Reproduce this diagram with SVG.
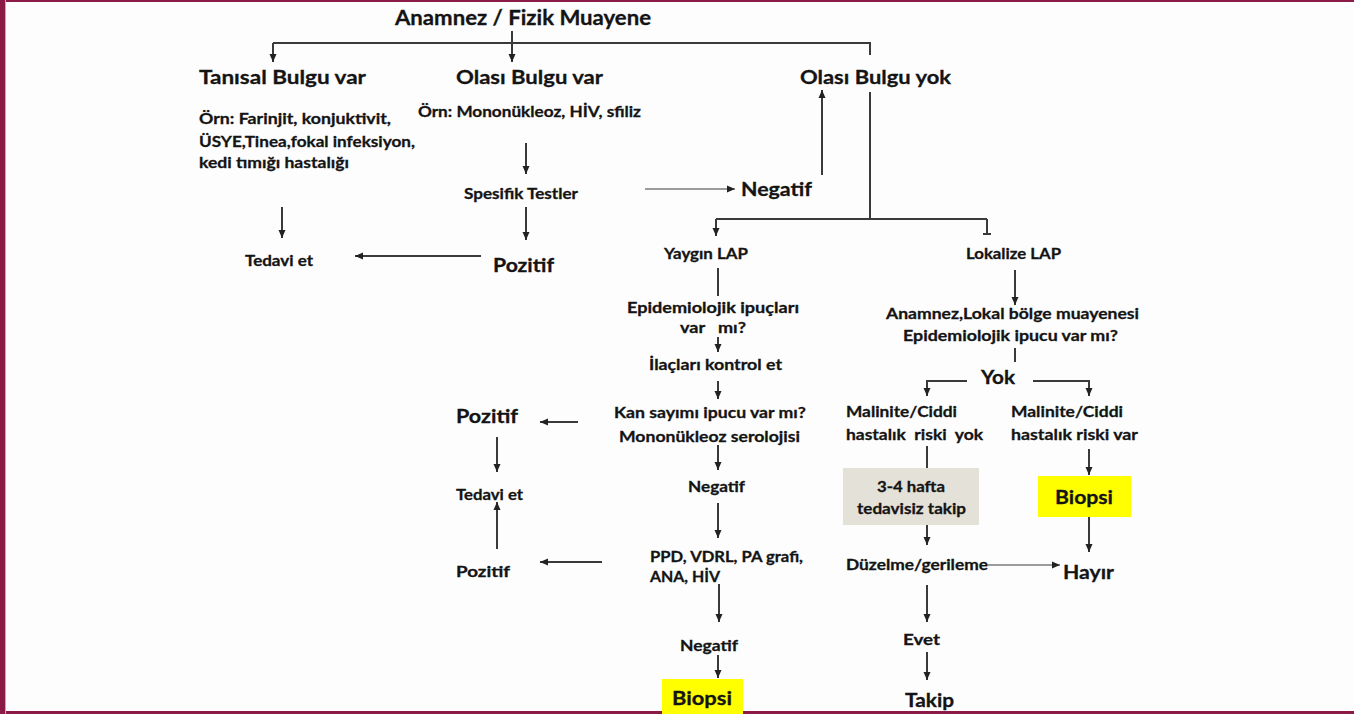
<svg xmlns="http://www.w3.org/2000/svg" width="1354" height="714" viewBox="0 0 1354 714">
  <defs>
    <style>
      text { font-family: Lato, "Open Sans", "Liberation Sans", sans-serif; font-weight: 700; fill: #141414; stroke: #141414; stroke-width: 0.3; }
      .xl { font-size: 20px; }
      .l { font-size: 19.5px; }
      .m { font-size: 16px; }
      .s { font-size: 15.3px; }
      .wire { fill: none; stroke: #3a3a3a; stroke-width: 2; }
      .thin { fill: none; stroke: #3a3a3a; stroke-width: 1.2; }
      .hl { fill: #ffff00; }
      .note { fill: #e4e1d9; }
    </style>
    <marker id="arrow" viewBox="0 0 8 8" refX="8" refY="4" markerWidth="8" markerHeight="8" markerUnits="userSpaceOnUse" orient="auto">
      <path d="M0,0.5 L8,4 L0,7.5 Z" fill="#222"/>
    </marker>
  </defs>

  <!-- page background and frame -->
  <rect x="0" y="0" width="1354" height="714" fill="#fdfdfd"/>
  <rect x="0" y="0" width="1354" height="2" fill="#8c1a46"/>
  <rect x="0" y="711" width="1354" height="3" fill="#8c1a46"/>
  <rect x="0" y="0" width="5" height="714" fill="#8c1a46"/>
  <rect x="5" y="0" width="1" height="714" fill="#d7a0b8"/>

  <!-- connectors -->
  <g id="connectors">
    <path class="wire" d="M512,31 V62" marker-end="url(#arrow)"/>
    <path class="wire" d="M273,43 H870 V55"/>
    <path class="wire" d="M273,43 V62" marker-end="url(#arrow)"/>
    <path class="wire" d="M282,207 V238" marker-end="url(#arrow)"/>
    <path class="wire" d="M526,143 V174" marker-end="url(#arrow)"/>
    <path class="wire" d="M526,207 V240" marker-end="url(#arrow)"/>
    <path class="wire" d="M481,256 H355" marker-end="url(#arrow)"/>
    <path class="thin" d="M645,189 H735" marker-end="url(#arrow)"/>
    <path class="wire" d="M822,175 V90" marker-end="url(#arrow)"/>
    <path class="wire" d="M870,92 V219 M716,219 H987"/>
    <path class="wire" d="M716,219 V236" marker-end="url(#arrow)"/>
    <path class="wire" d="M987,219 V234 M983,234 H991"/>
    <path class="wire" d="M718,268 V296"/>
    <path class="wire" d="M718,337 V352" marker-end="url(#arrow)"/>
    <path class="wire" d="M718,381 V399" marker-end="url(#arrow)"/>
    <path class="wire" d="M718,445 V470" marker-end="url(#arrow)"/>
    <path class="wire" d="M718,503 V538" marker-end="url(#arrow)"/>
    <path class="wire" d="M719,584 V622" marker-end="url(#arrow)"/>
    <path class="wire" d="M718,655 V678" marker-end="url(#arrow)"/>
    <path class="wire" d="M578,422 H540" marker-end="url(#arrow)"/>
    <path class="wire" d="M497,437 V472" marker-end="url(#arrow)"/>
    <path class="wire" d="M497,549 V502" marker-end="url(#arrow)"/>
    <path class="wire" d="M602,562 H540" marker-end="url(#arrow)"/>
    <path class="wire" d="M1015,270 V305" marker-end="url(#arrow)"/>
    <path class="wire" d="M1015,348 V362"/>
    <path class="wire" d="M967,381 H927 V396" marker-end="url(#arrow)"/>
    <path class="wire" d="M1033,381 H1089 V396" marker-end="url(#arrow)"/>
    <path class="wire" d="M927,446 V468"/>
    <path class="wire" d="M927,525 V545" marker-end="url(#arrow)"/>
    <path class="wire" d="M1089,449 V475" marker-end="url(#arrow)"/>
    <path class="wire" d="M1089,517 V552" marker-end="url(#arrow)"/>
    <path class="thin" d="M988,565 H1060" marker-end="url(#arrow)"/>
    <path class="wire" d="M927,585 V622" marker-end="url(#arrow)"/>
    <path class="wire" d="M927,652 V680" marker-end="url(#arrow)"/>
  </g>

  <!-- top level -->
  <g id="n-anamnez"><text class="xl" x="395" y="25" textLength="256" lengthAdjust="spacingAndGlyphs">Anamnez / Fizik Muayene</text></g>
  <g id="n-tanisal"><text class="l" x="199" y="84" textLength="167" lengthAdjust="spacingAndGlyphs">Tanısal Bulgu var</text></g>
  <g id="n-olasi-var"><text class="l" x="456" y="84" textLength="147" lengthAdjust="spacingAndGlyphs">Olası Bulgu var</text></g>
  <g id="n-olasi-yok"><text class="l" x="800" y="84" textLength="151" lengthAdjust="spacingAndGlyphs">Olası Bulgu yok</text></g>

  <!-- diagnostic finding branch -->
  <g id="n-ornek-1">
    <text class="m" x="199" y="124" textLength="192" lengthAdjust="spacingAndGlyphs">Örn: Farinjit, konjuktivit,</text>
    <text class="m" x="199" y="147" textLength="216" lengthAdjust="spacingAndGlyphs">ÜSYE,Tinea,fokal infeksiyon,</text>
    <text class="m" x="199" y="168" textLength="150" lengthAdjust="spacingAndGlyphs">kedi tımığı hastalığı</text>
  </g>
  <g id="n-tedavi-1"><text class="s" x="245" y="266" textLength="68" lengthAdjust="spacingAndGlyphs">Tedavi et</text></g>

  <!-- possible finding branch -->
  <g id="n-ornek-2"><text class="m" x="418" y="117" textLength="223" lengthAdjust="spacingAndGlyphs">Örn: Mononükleoz, HİV, sfiliz</text></g>
  <g id="n-spesifik"><text class="s" x="464" y="199" textLength="114" lengthAdjust="spacingAndGlyphs">Spesifik Testler</text></g>
  <g id="n-pozitif-1"><text class="l" x="493" y="272" textLength="61" lengthAdjust="spacingAndGlyphs">Pozitif</text></g>
  <g id="n-negatif-1"><text class="l" x="741" y="196" textLength="71" lengthAdjust="spacingAndGlyphs">Negatif</text></g>

  <!-- generalised lymphadenopathy -->
  <g id="n-yaygin"><text class="s" x="664" y="259" textLength="84" lengthAdjust="spacingAndGlyphs">Yaygın LAP</text></g>
  <g id="n-epi-1">
    <text class="m" x="627" y="313" textLength="172" lengthAdjust="spacingAndGlyphs">Epidemiolojik ipuçları</text>
    <text class="m" x="680" y="333" textLength="66" lengthAdjust="spacingAndGlyphs" xml:space="preserve">var   mı?</text>
  </g>
  <g id="n-ilac"><text class="m" x="649" y="370" textLength="133" lengthAdjust="spacingAndGlyphs">İlaçları kontrol et</text></g>
  <g id="n-kan">
    <text class="m" x="614" y="418" textLength="192" lengthAdjust="spacingAndGlyphs">Kan sayımı ipucu var mı?</text>
    <text class="m" x="619" y="442" textLength="181" lengthAdjust="spacingAndGlyphs">Mononükleoz serolojisi</text>
  </g>
  <g id="n-negatif-2"><text class="m" x="688" y="492" textLength="57" lengthAdjust="spacingAndGlyphs">Negatif</text></g>
  <g id="n-ppd">
    <text class="m" x="650" y="562" textLength="153" lengthAdjust="spacingAndGlyphs">PPD, VDRL, PA grafi,</text>
    <text class="m" x="650" y="582" textLength="70" lengthAdjust="spacingAndGlyphs">ANA, HİV</text>
  </g>
  <g id="n-negatif-3"><text class="m" x="680" y="651" textLength="58" lengthAdjust="spacingAndGlyphs">Negatif</text></g>
  <g id="n-biopsi-1">
    <rect class="hl" x="662" y="679" width="81" height="35"/>
    <text class="l" x="672" y="705" textLength="60" lengthAdjust="spacingAndGlyphs">Biopsi</text>
  </g>
  <g id="n-pozitif-2"><text class="l" x="456" y="423" textLength="62" lengthAdjust="spacingAndGlyphs">Pozitif</text></g>
  <g id="n-tedavi-2"><text class="s" x="456" y="500" textLength="67" lengthAdjust="spacingAndGlyphs">Tedavi et</text></g>
  <g id="n-pozitif-3"><text class="m" x="456" y="577" textLength="54" lengthAdjust="spacingAndGlyphs">Pozitif</text></g>

  <!-- localised lymphadenopathy -->
  <g id="n-lokalize"><text class="s" x="966" y="259" textLength="95" lengthAdjust="spacingAndGlyphs">Lokalize LAP</text></g>
  <g id="n-lokal-muayene">
    <text class="m" x="886" y="319" textLength="253" lengthAdjust="spacingAndGlyphs">Anamnez,Lokal bölge muayenesi</text>
    <text class="m" x="903" y="341" textLength="215" lengthAdjust="spacingAndGlyphs">Epidemiolojik ipucu var mı?</text>
  </g>
  <g id="n-yok"><text class="l" x="981" y="384" textLength="34" lengthAdjust="spacingAndGlyphs">Yok</text></g>
  <g id="n-risk-yok">
    <text class="m" x="846" y="417" textLength="111" lengthAdjust="spacingAndGlyphs">Malinite/Ciddi</text>
    <text class="m" x="846" y="440" textLength="137" lengthAdjust="spacingAndGlyphs" xml:space="preserve">hastalık  riski  yok</text>
  </g>
  <g id="n-risk-var">
    <text class="m" x="1011" y="417" textLength="112" lengthAdjust="spacingAndGlyphs">Malinite/Ciddi</text>
    <text class="m" x="1011" y="440" textLength="127" lengthAdjust="spacingAndGlyphs">hastalık riski var</text>
  </g>
  <g id="n-takip-4hafta">
    <rect class="note" x="843" y="468" width="136" height="57"/>
    <text class="m" x="877" y="492" textLength="68" lengthAdjust="spacingAndGlyphs">3-4 hafta</text>
    <text class="m" x="857" y="514" textLength="109" lengthAdjust="spacingAndGlyphs">tedavisiz takip</text>
  </g>
  <g id="n-biopsi-2">
    <rect class="hl" x="1038" y="476" width="93" height="41"/>
    <text class="l" x="1055" y="504" textLength="58" lengthAdjust="spacingAndGlyphs">Biopsi</text>
  </g>
  <g id="n-duzelme"><text class="m" x="846" y="570" textLength="142" lengthAdjust="spacingAndGlyphs">Düzelme/gerileme</text></g>
  <g id="n-hayir"><text class="l" x="1063" y="579" textLength="51" lengthAdjust="spacingAndGlyphs">Hayır</text></g>
  <g id="n-evet"><text class="m" x="903" y="645" textLength="37" lengthAdjust="spacingAndGlyphs">Evet</text></g>
  <g id="n-takip"><text class="l" x="905" y="707" textLength="49" lengthAdjust="spacingAndGlyphs">Takip</text></g>
</svg>
